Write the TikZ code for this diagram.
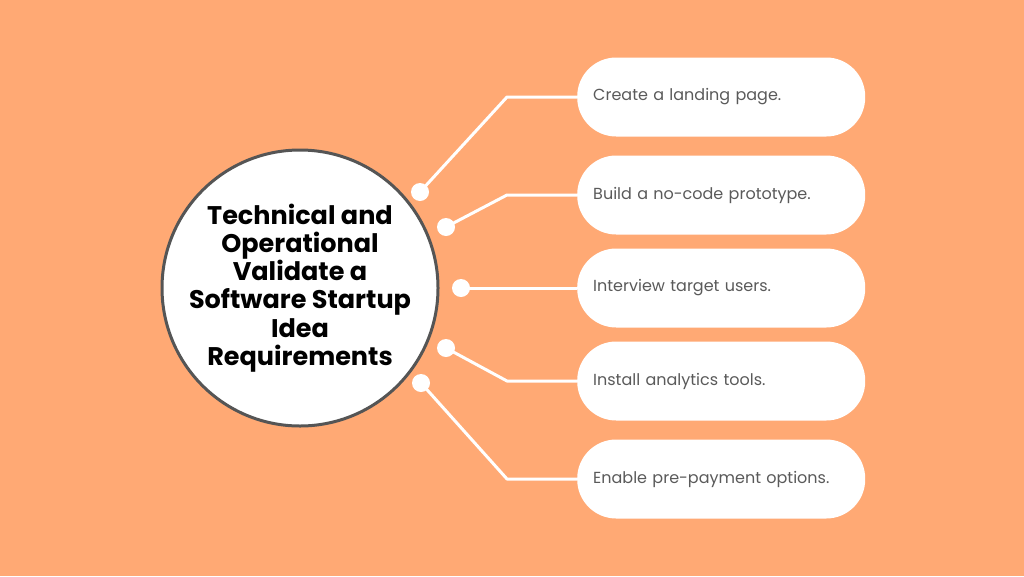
\documentclass[tikz,border=0pt]{standalone}
\usepackage{fontspec}
\setmainfont{Poppins}
\usepackage{tikz}
\usetikzlibrary{positioning}
\definecolor{BgOrange}{RGB}{255,169,116}
\definecolor{RimGray}{RGB}{85,85,85}
\definecolor{TextGray}{RGB}{90,90,90}

\begin{document}
\begin{tikzpicture}[
    x=1pt,y=-1pt,
    pill/.style={
      fill=white,rounded corners=39pt,minimum width=288pt,
      minimum height=79pt,inner xsep=16pt,inner ysep=0pt,
      text width=256pt,align=left,text=TextGray,
      font=\fontsize{16pt}{19pt}\selectfont
    },
    dot/.style={circle,fill=white,minimum size=18pt,inner sep=0pt},
    link/.style={white,line width=3pt,line join=round}]
    \fill[BgOrange] (0,0) rectangle (1024,576);
    \useasboundingbox (0,0) rectangle (1024,576);
    % hub
    \node[circle,draw=RimGray,line width=3pt,fill=white,minimum size=276pt,
      inner sep=0pt] (hub) at (300,288) {};
    \node[align=center,inner sep=0pt,
      font=\fontsize{25.5pt}{28.2pt}\bfseries\selectfont] (hubtext) at (hub.center)
      {Technical and\\Operational\\Validate a\\Software Startup\\Idea\\Requirements};
    % steps
    \node[pill,anchor=west] (landing) at (577,97) {Create a landing page.};
    \node[pill,anchor=west] (proto) at (577,195) {Build a no-code prototype.};
    \node[pill,anchor=west] (interview) at (577,288) {Interview target users.};
    \node[pill,anchor=west] (analytics) at (577,381) {Install analytics tools.};
    \node[pill,anchor=west] (prepay) at (577,479) {Enable pre-payment options.};
    % connectors
    \coordinate (k1) at (507,97);
    \coordinate (k2) at (507,195);
    \coordinate (k4) at (507,381);
    \coordinate (k5) at (507,479);
    \node[dot] (d1) at (420,192) {};
    \node[dot] (d2) at (446,227) {};
    \node[dot] (d3) at (461,288) {};
    \node[dot] (d4) at (446,348) {};
    \node[dot] (d5) at (421,383) {};
    \draw[link] (d1.center)--(k1)--(landing.west);
    \draw[link] (d2.center)--(k2)--(proto.west);
    \draw[link] (d3.center)--(interview.west);
    \draw[link] (d4.center)--(k4)--(analytics.west);
    \draw[link] (d5.center)--(k5)--(prepay.west);
  \end{tikzpicture}
\end{document}
